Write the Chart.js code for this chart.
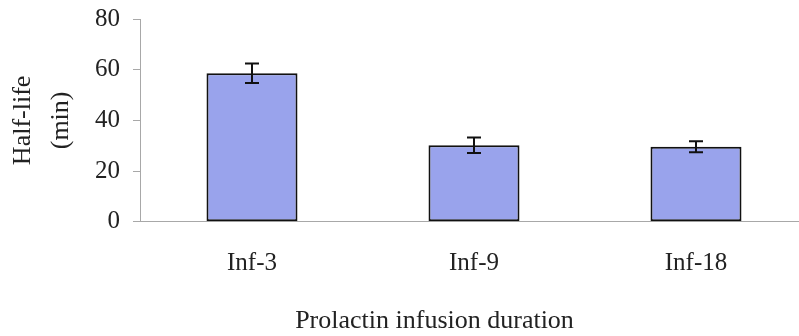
<!DOCTYPE html>
<html>
<head>
<meta charset="utf-8">
<script src="https://cdn.jsdelivr.net/npm/chart.js@4"></script>
<style>
    html, body { margin: 0; padding: 0; background: #fff; overflow: hidden; }
    .wrap { width: 799px; height: 336px; overflow: hidden; position: relative; }
    .wrap canvas { display: block; position: absolute; left: 0; top: -9px; }
</style>
</head>
<body>
<div class="wrap">
    <canvas id="halfLifeChart" width="869" height="346"></canvas>
</div>
<script>
var groups = ['Inf-3', 'Inf-9', 'Inf-18'];
var halfLife = [58.6, 30.2, 29.6];
var halfLifeErr = [3.8, 3.1, 2.2];
var yTicks = [0, 20, 40, 60, 80];

var serif = "'Liberation Serif', 'DejaVu Serif', serif";
var textColor = '#222';
var axisGrey = '#a8a8a8';

// whiskers on top of each bar, mean +/- error
var errorBars = {
    id: 'errorBars',
    afterDatasetsDraw: function(chart) {
        var ctx = chart.ctx;
        var meta = chart.getDatasetMeta(0);
        var y = chart.scales.y;
        ctx.save();
        ctx.strokeStyle = '#111';
        ctx.lineWidth = 2;
        meta.data.forEach(function(bar, i) {
            var v = halfLife[i], e = halfLifeErr[i];
            var top = y.getPixelForValue(v + e);
            var bottom = y.getPixelForValue(v - e);
            var cap = 7;
            ctx.beginPath();
            ctx.moveTo(bar.x, top);
            ctx.lineTo(bar.x, bottom);
            ctx.moveTo(bar.x - cap, top);
            ctx.lineTo(bar.x + cap, top);
            ctx.moveTo(bar.x - cap, bottom);
            ctx.lineTo(bar.x + cap, bottom);
            ctx.stroke();
        });
        ctx.restore();
    }
};

new Chart(document.getElementById('halfLifeChart').getContext('2d'), {
    type: 'bar',
    data: {
        labels: groups,
        datasets: [{
            data: halfLife,
            backgroundColor: '#99a3ec',
            borderColor: '#111',
            borderWidth: 2,
            borderSkipped: false,
            categoryPercentage: 1,
            barPercentage: 0.41
        }]
    },
    options: {
        responsive: false,
        animation: false,
        layout: { padding: 0 },
        plugins: {
            legend: { display: false },
            tooltip: { enabled: false },
            title: {
                display: true,
                position: 'bottom',
                text: 'Prolactin infusion duration',
                color: textColor,
                font: { family: serif, size: 26, weight: 'normal', lineHeight: 1.2 },
                padding: { top: 0, bottom: 0 }
            }
        },
        scales: {
            y: {
                min: 0,
                max: 80,
                afterBuildTicks: function(scale) {
                    scale.ticks = yTicks.map(function(v) { return { value: v }; });
                },
                ticks: {
                    color: textColor,
                    padding: 13,
                    font: { family: serif, size: 25, lineHeight: 1.2 }
                },
                grid: {
                    drawOnChartArea: false,
                    drawTicks: true,
                    tickLength: 8,
                    color: axisGrey
                },
                border: { display: true, color: axisGrey, width: 1 },
                title: {
                    display: true,
                    text: ['Half-life', '(min)'],
                    color: textColor,
                    font: { family: serif, size: 26, lineHeight: 1.4615 },
                    padding: { top: 4.5, bottom: 1.5 }
                }
            },
            // empty strip on the right, keeps the plot wider than the page
            y2: {
                position: 'right',
                display: true,
                grid: { display: false, drawTicks: false },
                border: { display: false },
                ticks: { display: false },
                afterFit: function(scale) { scale.width = 62; }
            },
            x: {
                grid: { display: false, drawTicks: false },
                border: { display: true, color: axisGrey, width: 1 },
                ticks: {
                    color: textColor,
                    padding: 27,
                    font: { family: serif, size: 25, lineHeight: 1.2 }
                }
            }
        }
    },
    plugins: [errorBars]
});
</script>
</body>
</html>
